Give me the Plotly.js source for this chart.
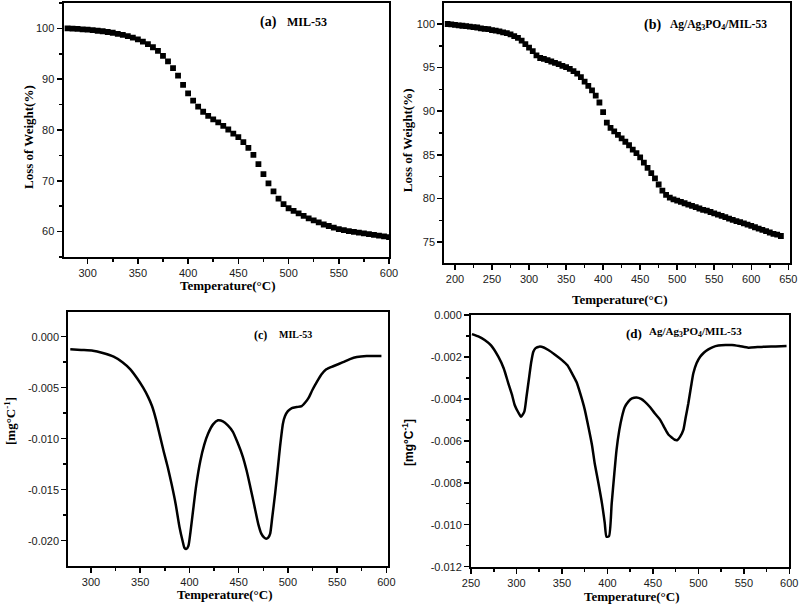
<!DOCTYPE html>
<html>
<head>
<meta charset="utf-8">
<script src="https://cdn.plot.ly/plotly-3.0.1.min.js"></script>
<style>html,body{margin:0;padding:0;background:#fff;}#chart{width:800px;height:609px;}</style>
</head>
<body>
<div id="chart"></div>
<script>
// ---- Panel (a): TGA of MIL-53 ----
const tempA = [280,285,290,295,300,305,310,315,320,325,330,335,340,345,350,355,360,365,370,375,380,385,390,395,400,405,410,415,420,425,430,435,440,445,450,455,460,465,470,475,480,485,490,495,500,505,510,515,520,525,530,535,540,545,550,555,560,565,570,575,580,585,590,595,600];
const weightA = [100.0,99.95,99.9,99.8,99.75,99.65,99.55,99.45,99.3,99.15,98.95,98.75,98.5,98.2,97.85,97.4,96.9,96.3,95.6,94.6,93.5,92.2,90.7,88.9,87.2,85.8,84.6,83.6,82.8,82.1,81.5,80.8,80.1,79.3,78.6,77.6,76.5,75.1,73.3,71.3,69.5,67.9,66.5,65.4,64.6,64.1,63.6,63.1,62.6,62.2,61.8,61.4,61.1,60.8,60.5,60.3,60.1,59.95,59.8,59.65,59.5,59.35,59.2,59.05,58.9];

// ---- Panel (b): TGA of Ag/Ag3PO4/MIL-53 ----
const tempB = [190,195,200,205,210,215,220,225,230,235,240,245,250,255,260,265,270,275,280,285,290,295,300,305,310,315,320,325,330,335,340,345,350,355,360,365,370,375,380,385,390,395,400,405,410,415,420,425,430,435,440,445,450,455,460,465,470,475,480,485,490,495,500,505,510,515,520,525,530,535,540,545,550,555,560,565,570,575,580,585,590,595,600,605,610,615,620,625,630,635,640];
const weightB = [100.0,99.95,99.9,99.85,99.8,99.75,99.7,99.65,99.6,99.5,99.45,99.4,99.3,99.25,99.15,99.05,98.95,98.8,98.6,98.4,98.1,97.7,97.3,96.9,96.4,96.1,96.0,95.85,95.7,95.55,95.4,95.2,95.05,94.85,94.6,94.3,93.9,93.4,92.9,92.4,91.8,91.0,89.9,88.7,88.1,87.7,87.3,86.9,86.5,86.1,85.6,85.2,84.7,84.1,83.5,82.9,82.3,81.6,80.9,80.4,80.1,79.9,79.75,79.6,79.45,79.3,79.15,79.0,78.85,78.7,78.6,78.45,78.3,78.15,78.0,77.85,77.7,77.55,77.4,77.3,77.15,77.0,76.85,76.7,76.55,76.4,76.25,76.1,75.95,75.85,75.7];

// ---- Panel (c): DTG of MIL-53 ----
const tempC = [279,290,302,312,323,332,340,347,353,358,362,366,370,374,378,382,386,390,393,395,397,399,401,404,407,411,415,419,424,429,434,439,444,449,454,458,462,466,470,473,476,478,480,482,484,487,490,492,495,497,500,504,509,514,518,521,525,529,534,539,546,556,563,570,580,595];
const dtgC = [-0.00124,-0.0013,-0.00137,-0.0016,-0.00196,-0.0025,-0.0032,-0.0041,-0.0050,-0.0059,-0.0068,-0.0081,-0.0097,-0.0113,-0.0128,-0.0145,-0.0164,-0.0187,-0.0200,-0.0207,-0.0208,-0.0205,-0.0192,-0.0168,-0.0145,-0.0122,-0.0106,-0.0095,-0.0086,-0.0082,-0.0083,-0.0087,-0.0093,-0.0104,-0.0117,-0.0131,-0.0148,-0.0166,-0.0184,-0.0193,-0.0197,-0.0198,-0.0197,-0.0193,-0.0178,-0.0154,-0.0127,-0.0108,-0.0085,-0.0078,-0.0073,-0.0070,-0.0069,-0.0068,-0.0064,-0.0060,-0.0052,-0.0045,-0.0037,-0.0032,-0.0029,-0.0025,-0.0022,-0.0020,-0.0019,-0.0019];

// ---- Panel (d): DTG of Ag/Ag3PO4/MIL-53 ----
const tempD = [251,258,265,272,280,286,291,295,298,302,305,308.6,311,314,316,318.5,321,325,330,335,342,350,356,361,366,370,375,379,383,386,390,394,397,399,401.7,404.7,407.5,410,413,416,419,423,427,432,437,441,447,452,458,463,467,471,474,477,480,483.5,486,489,492,494.5,498,502,506,511,516,522,530,537,545,555,565,573,585,597];
const dtgD = [-0.00091,-0.00102,-0.00119,-0.00145,-0.00199,-0.00255,-0.00326,-0.0038,-0.00429,-0.00465,-0.00485,-0.00461,-0.0039,-0.00294,-0.0023,-0.00175,-0.00158,-0.00151,-0.00155,-0.00167,-0.00188,-0.00215,-0.0024,-0.00278,-0.0032,-0.00373,-0.0045,-0.00532,-0.0062,-0.00707,-0.008,-0.00898,-0.0099,-0.01057,-0.01055,-0.00898,-0.0076,-0.00644,-0.0055,-0.00485,-0.0044,-0.00413,-0.00398,-0.00393,-0.004,-0.00413,-0.0044,-0.00469,-0.005,-0.0054,-0.0057,-0.00585,-0.00595,-0.00596,-0.0058,-0.00548,-0.0049,-0.00421,-0.0034,-0.00278,-0.0023,-0.00199,-0.0018,-0.00164,-0.00153,-0.00146,-0.00143,-0.00143,-0.00148,-0.00156,-0.00153,-0.00151,-0.0015,-0.00148];

// ---- tick labels ----
const tickValsC = [0, -0.005, -0.010, -0.015, -0.020];
const tickTextC = ["0.000", "-0.005", "-0.010", "-0.015", "-0.020"];
const tickValsD = [0, -0.002, -0.004, -0.006, -0.008, -0.010, -0.012];
const tickTextD = ["0.000", "-0.002", "-0.004", "-0.006", "-0.008", "-0.010", "-0.012"];

const markerStyle = {symbol: 'square', size: 5.8, color: '#000'};
const lineStyle = {color: '#000', width: 2.5, shape: 'spline', smoothing: 0.6};

const traces = [
  {x: tempA, y: weightA, type: 'scatter', mode: 'markers', marker: markerStyle, xaxis: 'x', yaxis: 'y'},
  {x: tempB, y: weightB, type: 'scatter', mode: 'markers', marker: markerStyle, xaxis: 'x2', yaxis: 'y2'},
  {x: tempC, y: dtgC, type: 'scatter', mode: 'lines', line: lineStyle, xaxis: 'x3', yaxis: 'y3'},
  {x: tempD, y: dtgD, type: 'scatter', mode: 'lines', line: lineStyle, xaxis: 'x4', yaxis: 'y4'}
];

const tickFont = {family: 'Liberation Sans, Arial, sans-serif', size: 11, color: '#1a1a1a'};
function ax(extra) {
  return Object.assign({
    showline: true, linewidth: 2, linecolor: '#000', mirror: true,
    ticks: 'outside', ticklen: 5, tickwidth: 1.5, tickcolor: '#000',
    showgrid: false, zeroline: false, tickfont: tickFont, fixedrange: true
  }, extra);
}

const serifBold = {family: 'Liberation Serif, Times New Roman, serif', size: 13, color: '#000', weight: 'bold'};
function ann(text, x, y, opts) {
  return Object.assign({text: text, x: x, y: y, xref: 'paper', yref: 'paper', showarrow: false,
    xanchor: 'center', yanchor: 'middle', font: serifBold}, opts || {});
}

const layout = {
  width: 800, height: 609,
  margin: {l: 0, r: 0, t: 0, b: 0},
  paper_bgcolor: '#fff', plot_bgcolor: '#fff',
  showlegend: false,
  xaxis: ax({domain: [0.0794, 0.4863], range: [276, 600], dtick: 50, tick0: 0, anchor: 'y', minor: {dtick: 25, ticks: 'outside', ticklen: 3, tickcolor: '#000'}}),
  yaxis: ax({domain: [0.578, 0.995], range: [55, 105], dtick: 10, tick0: 0, anchor: 'x', minor: {dtick: 5, ticks: 'outside', ticklen: 3, tickcolor: '#000'}}),
  xaxis2: ax({domain: [0.5554, 0.9875], range: [185.6, 652.3], dtick: 50, tick0: 0, anchor: 'y2', minor: {dtick: 25, ticks: 'outside', ticklen: 3, tickcolor: '#000'}}),
  yaxis2: ax({domain: [0.5681, 0.995], range: [72.6, 102.4], dtick: 5, tick0: 0, anchor: 'x2', minor: {dtick: 2.5, ticks: 'outside', ticklen: 3, tickcolor: '#000'}}),
  xaxis3: ax({domain: [0.0854, 0.4854], range: [277, 602], dtick: 50, tick0: 0, anchor: 'y3', minor: {dtick: 25, ticks: 'outside', ticklen: 3, tickcolor: '#000'}}),
  yaxis3: ax({domain: [0.0711, 0.4882], range: [-0.02245, 0.00245], tickvals: tickValsC, ticktext: tickTextC, anchor: 'x3', minor: {dtick: 0.0025, tick0: 0, ticks: 'outside', ticklen: 3, tickcolor: '#000'}}),
  xaxis4: ax({domain: [0.5888, 0.9866], range: [250, 600], dtick: 50, tick0: 0, anchor: 'y4', minor: {dtick: 25, ticks: 'outside', ticklen: 3, tickcolor: '#000'}}),
  yaxis4: ax({domain: [0.0695, 0.4828], range: [-0.012, 0], tickvals: tickValsD, ticktext: tickTextD, anchor: 'x4', minor: {dtick: 0.001, tick0: 0, ticks: 'outside', ticklen: 3, tickcolor: '#000'}}),
  annotations: [
    // axis titles
    ann('Temperature(°C)', 0.285, 0.5305),
    ann('Temperature(°C)', 0.774, 0.5075),
    ann('Temperature(°C)', 0.281, 0.0245),
    ann('Temperature(°C)', 0.7896, 0.0205),
    ann('Loss of Weight(%)', 0.035, 0.775, {textangle: -90}),
    ann('Loss of Weight(%)', 0.509, 0.770, {textangle: -90}),
    ann('[mg°C<sup>-1</sup>]', 0.0125, 0.3087, {textangle: -90}),
    ann('[mg°C<sup>-1</sup>]', 0.51, 0.2726, {textangle: -90, font: {family: 'Liberation Sans, Arial, sans-serif', size: 12, color: '#000', weight: 'bold'}}),
    // panel labels
    ann('(a)', 0.336, 0.9644, {font: Object.assign({}, serifBold, {size: 14})}),
    ann('MIL-53', 0.356, 0.9644, {xanchor: 'left', font: Object.assign({}, serifBold, {size: 12})}),
    ann('(b)', 0.815, 0.959, {font: Object.assign({}, serifBold, {size: 14})}),
    ann('Ag/Ag<sub>3</sub>PO<sub>4</sub>/MIL-53', 0.835, 0.959, {xanchor: 'left', font: Object.assign({}, serifBold, {size: 11.5})}),
    ann('(c)', 0.326, 0.45, {font: Object.assign({}, serifBold, {size: 12})}),
    ann('MIL-53', 0.346, 0.45, {xanchor: 'left', font: Object.assign({}, serifBold, {size: 10})}),
    ann('(d)', 0.792, 0.4529, {font: Object.assign({}, serifBold, {size: 13})}),
    ann('Ag/Ag<sub>3</sub>PO<sub>4</sub>/MIL-53', 0.809, 0.4553, {xanchor: 'left', font: Object.assign({}, serifBold, {size: 11})})
  ]
};

Plotly.newPlot('chart', traces, layout, {staticPlot: true, displayModeBar: false});
</script>
</body>
</html>
